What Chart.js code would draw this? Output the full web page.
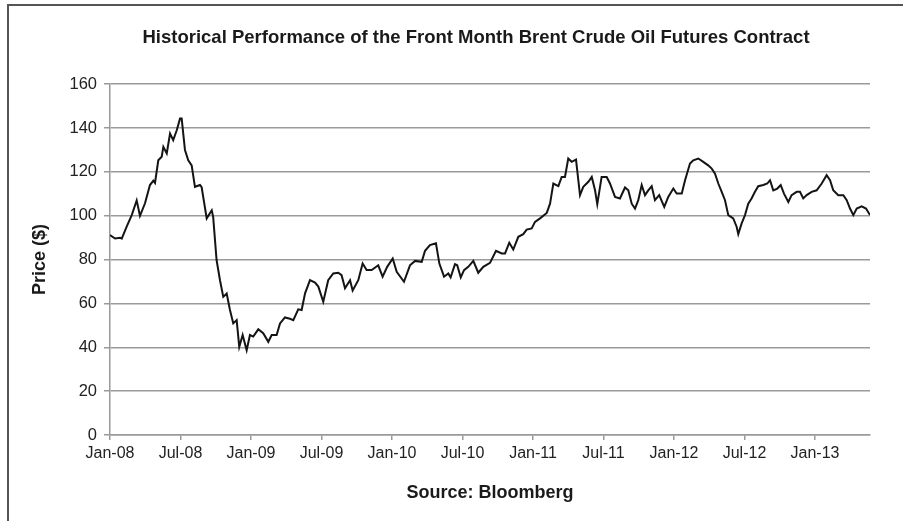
<!DOCTYPE html>
<html>
<head>
<meta charset="utf-8">
<script src="https://cdn.jsdelivr.net/npm/chart.js"></script>
<style>
  html, body { margin: 0; padding: 0; background: #fff; overflow: hidden; }
  #frame { position: absolute; left: 7px; top: 4px; width: 1000px; height: 1000px;
           border-left: 2px solid #555; border-top: 2px solid #555; }
  #wrap { position: absolute; left: 0; top: 0; width: 903px; height: 521px; }
</style>
</head>
<body>
<div id="frame"></div>
<div id="wrap"><canvas id="brentChart"></canvas></div>
<script>
// Front month Brent price (x = months since Jan 2008)
const months = [0,0.43,0.85,1.0,1.42,1.85,2.27,2.55,2.98,3.4,
  3.69,3.83,4.11,4.4,4.54,4.83,5.11,5.38,5.68,5.96,
  6.1,6.38,6.66,6.95,7.23,7.66,7.8,8.23,8.66,8.78,
  9.07,9.36,9.64,9.93,10.21,10.49,10.78,11.0,11.29,11.63,
  11.91,12.19,12.62,13.04,13.47,13.76,14.18,14.47,14.89,15.32,
  15.6,16.02,16.31,16.6,17.02,17.45,17.73,18.15,18.57,19.0,
  19.43,19.71,20.0,20.43,20.65,21.13,21.5,21.84,22.27,22.83,
  23.2,23.59,24.06,24.4,25.02,25.53,25.96,26.53,26.81,27.23,
  27.74,28.03,28.43,28.79,28.99,29.36,29.55,29.85,30.13,30.49,
  30.92,31.34,31.77,32.34,32.85,33.34,33.62,33.98,34.32,34.75,
  35.17,35.46,35.89,36.17,36.6,37.17,37.45,37.73,38.16,38.44,
  38.72,39.0,39.29,39.66,40.0,40.28,40.71,41.0,41.28,41.47,
  41.84,42.27,42.55,42.98,43.4,43.83,44.11,44.4,44.68,44.96,
  45.25,45.53,45.81,46.1,46.38,46.74,47.17,47.51,47.94,48.23,
  48.66,48.94,49.36,49.64,50.07,50.49,50.91,51.21,51.49,51.77,
  52.06,52.34,52.62,53.04,53.33,53.47,53.75,54.04,54.32,54.6,
  54.89,55.17,55.6,55.94,56.17,56.45,56.79,57.08,57.36,57.73,
  58.01,58.44,58.72,59.0,59.29,59.71,60.14,60.57,60.99,61.28,
  61.55,61.98,62.41,62.7,62.98,63.26,63.55,63.97,64.34,64.68];

const prices = [91.2,89.6,90,89.6,95,100.3,107,100,105.7,114,
  116,115,125.3,126.9,131.4,128.4,137.5,134.5,139,144.3,
  144.3,130,125.3,123,113.2,114,113,98.8,102.5,99.5,
  79.8,70.6,63,64.5,57,50.9,52.4,40.2,45.6,38.7,
  45.6,44.9,48.2,46.4,42.5,45.6,45.6,50.9,53.6,53,
  52.4,57.3,57,64.6,70.6,69.5,67.7,60.8,70.6,73.7,
  74,72.9,66.9,70.6,65.9,70.6,78.2,75.2,75.2,77.4,
  72.2,76.7,80.5,74.4,69.9,77.4,79.4,79,84,86.6,
  87.4,78.2,72.2,73.7,71.9,77.9,77.4,71.9,75.2,76.7,
  79.4,74,76.7,78.5,84,82.8,82.8,87.7,84.6,90.4,
  91.6,93.7,94.2,97.2,98.8,101.3,105.5,114.7,113.5,117.7,
  117.7,126.1,124.6,125.6,109.4,113.2,115.5,117.7,111.6,105.3,
  117.7,117.7,114.7,108.6,107.9,112.9,111.6,105.5,103.3,107.1,
  114,109.4,111.6,113.5,107.1,109.4,104,108.6,112.4,110.1,
  110.1,116.2,123.8,125.3,126.1,124.6,123,121.5,119.2,114.7,
  110.9,107.1,100.3,98.8,95,91.6,96.4,100.3,105.5,107.9,
  110.9,113.5,114,114.7,116.2,111.6,112.4,114,110.1,106.3,
  109.4,110.9,110.9,107.9,109.4,110.9,111.6,114.7,118.5,116.2,
  111.6,109.4,109.4,107.1,103.3,100.3,103.3,104.3,103.3,100.3];

// tick labels every 6 months starting Jan-08
const xTickMonths = [0, 6, 12, 18, 24, 30, 36, 42, 48, 54, 60];
const xTickLabels = ['Jan-08','Jul-08','Jan-09','Jul-09','Jan-10','Jul-10',
  'Jan-11','Jul-11','Jan-12','Jul-12','Jan-13'];
const yTicks = [0, 20, 40, 60, 80, 100, 120, 140, 160];

if (months.length !== prices.length) throw new Error('length mismatch ' + months.length + ' ' + prices.length);

const points = months.map((m, i) => ({ x: m, y: prices[i] }));
const fontFamily = "'Liberation Sans', Arial, sans-serif";
const gridGrey = '#9a9a9a';

const ctx = document.getElementById('brentChart').getContext('2d');
new Chart(ctx, {
  type: 'line',
  data: {
    datasets: [{
      data: points,
      borderColor: '#141414',
      borderWidth: 2,
      pointRadius: 0,
      tension: 0,
      fill: false,
      yAxisID: 'y'
    }]
  },
  options: {
    responsive: true,
    maintainAspectRatio: false,
    animation: false,
    layout: { padding: { left: 49, right: 0, top: 0, bottom: 0 } },
    plugins: {
      legend: { display: false },
      tooltip: { enabled: false },
      title: {
        display: true,
        text: 'Historical Performance of the Front Month Brent Crude Oil Futures Contract',
        color: '#1a1a1a',
        font: { family: fontFamily, size: 18.5, weight: 'bold' },
        padding: { top: 27, bottom: 35 }
      }
    },
    scales: {
      x: {
        type: 'linear',
        min: months[0],
        max: months[months.length - 1],
        afterFit: (scale) => { scale.height = 86; },
        afterBuildTicks: (scale) => {
          scale.ticks = xTickMonths.map(v => ({ value: v }));
        },
        ticks: {
          autoSkip: false,
          maxRotation: 0,
          padding: 4,
          color: '#222',
          font: { family: fontFamily, size: 16 },
          callback: (v) => xTickLabels[xTickMonths.indexOf(v)]
        },
        grid: {
          drawOnChartArea: false,
          drawTicks: true,
          tickLength: 5,
          color: gridGrey,
          lineWidth: 1.5
        },
        border: { color: gridGrey, width: 1.5 },
        title: {
          display: true,
          text: 'Source: Bloomberg',
          color: '#1a1a1a',
          font: { family: fontFamily, size: 18, weight: 'bold' },
          padding: { top: 0, bottom: 17 }
        }
      },
      y: {
        min: 0,
        max: 160,
        afterFit: (scale) => { scale.width = 61; },
        afterBuildTicks: (scale) => {
          scale.ticks = yTicks.map(v => ({ value: v }));
        },
        ticks: {
          padding: 7,
          color: '#222',
          font: { family: fontFamily, size: 16.5 }
        },
        grid: {
          color: gridGrey,
          lineWidth: 1.5,
          tickLength: 6
        },
        border: { color: gridGrey, width: 1.5 },
        title: {
          display: true,
          text: 'Price ($)',
          color: '#1a1a1a',
          font: { family: fontFamily, size: 18, weight: 'bold' },
          padding: { top: -20, bottom: 0 }
        }
      },
      // empty spacer on the right so the plot ends where the reference does
      spacer: {
        position: 'right',
        display: true,
        afterFit: (scale) => { scale.width = 33; },
        ticks: { display: false },
        grid: { display: false, drawTicks: false },
        border: { display: false }
      }
    }
  }
});
</script>
</body>
</html>
